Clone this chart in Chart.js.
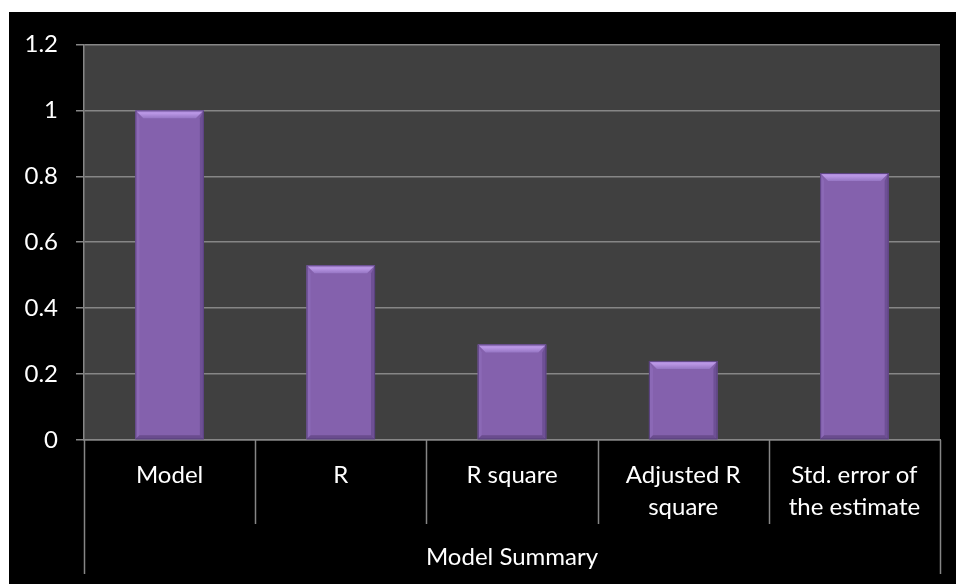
<!DOCTYPE html>
<html>
<head>
<meta charset="utf-8">
<script src="https://cdn.jsdelivr.net/npm/chart.js@4/dist/chart.umd.min.js"></script>
<style>
  html, body { margin: 0; padding: 0; background: #ffffff; }
  #wrap { position: absolute; left: 9px; top: 12px; width: 947px; height: 572px; background: #000000; }
  canvas { display: block; }
</style>
</head>
<body>
<div id="wrap"><canvas id="c" width="947" height="572"></canvas></div>
<script>
// ---- data ----
const categories = [['Model'], ['R'], ['R square'], ['Adjusted R', 'square'], ['Std. error of', 'the estimate']];
const groupLabel = 'Model Summary';
const values = [1.0, 0.53, 0.29, 0.24, 0.81];
const yTicks = [0, 0.2, 0.4, 0.6, 0.8, 1, 1.2];

const FONT = 'Lato, "Open Sans", "DejaVu Sans", sans-serif';
const FSIZE = 24;
const GRID = '#868686';

// plot area background
const plotBgPlugin = {
  id: 'plotBg',
  beforeDraw(chart) {
    const a = chart.chartArea;
    const ctx = chart.ctx;
    ctx.save();
    ctx.fillStyle = '#404040';
    ctx.fillRect(a.left, a.top, a.right - a.left, a.bottom - a.top);
    ctx.restore();
  }
};

// bevel effect on bars
const bevelPlugin = {
  id: 'bevel',
  afterDatasetsDraw(chart) {
    const ctx = chart.ctx;
    chart.getDatasetMeta(0).data.forEach(bar => {
      const l = bar.x - bar.width / 2, r = bar.x + bar.width / 2;
      const t = bar.y, b = bar.base;
      const bt = 8, bs = 4, bb = 4;
      ctx.save();
      ctx.beginPath();
      ctx.moveTo(l, t); ctx.lineTo(l + bs, t + bt); ctx.lineTo(l + bs, b - bb); ctx.lineTo(l, b);
      ctx.closePath(); ctx.fillStyle = '#8b69b6'; ctx.fill();
      ctx.beginPath();
      ctx.moveTo(r, t); ctx.lineTo(r - bs, t + bt); ctx.lineTo(r - bs, b - bb); ctx.lineTo(r, b);
      ctx.closePath(); ctx.fillStyle = '#6e5095'; ctx.fill();
      ctx.beginPath();
      ctx.moveTo(l, b); ctx.lineTo(l + bs, b - bb); ctx.lineTo(r - bs, b - bb); ctx.lineTo(r, b);
      ctx.closePath(); ctx.fillStyle = '#6a4c8e'; ctx.fill();
      const g = ctx.createLinearGradient(0, t, 0, t + bt);
      g.addColorStop(0, '#a583d3');
      g.addColorStop(0.35, '#bb98e6');
      g.addColorStop(1, '#9676c4');
      ctx.beginPath();
      ctx.moveTo(l, t); ctx.lineTo(r, t); ctx.lineTo(r - bs * 2, t + bt); ctx.lineTo(l + bs * 2, t + bt);
      ctx.closePath(); ctx.fillStyle = g; ctx.fill();
      ctx.strokeStyle = '#5b4280';
      ctx.lineWidth = 1;
      ctx.strokeRect(l + 0.5, t + 0.5, bar.width - 1, b - t - 1);
      ctx.restore();
    });
  }
};

// multi-level category separators
const separatorPlugin = {
  id: 'separators',
  afterDraw(chart) {
    const xs = chart.scales.x;
    const ctx = chart.ctx;
    const n = categories.length;
    const step = (xs.right - xs.left) / n;
    const top = xs.top;
    ctx.save();
    ctx.strokeStyle = GRID;
    ctx.lineWidth = 1.5;
    for (let i = 0; i <= n; i++) {
      const x = Math.round(xs.getPixelForValue(i) - step / 2) + 0.5;
      const len = (i === 0 || i === n) ? 134 : 84;
      ctx.beginPath();
      ctx.moveTo(x, top);
      ctx.lineTo(x, top + len);
      ctx.stroke();
    }
    ctx.restore();
  }
};

new Chart(document.getElementById('c'), {
  type: 'bar',
  data: {
    labels: categories,
    datasets: [{
      data: values,
      backgroundColor: '#8461ad',
      borderWidth: 0,
      categoryPercentage: 1.0,
      barPercentage: 0.4
    }]
  },
  options: {
    responsive: false,
    animation: false,
    events: [],
    layout: { padding: { top: 28, right: 16, left: 0, bottom: 0 } },
    plugins: {
      legend: { display: false },
      tooltip: { enabled: false },
      title: { display: false }
    },
    scales: {
      y: {
        min: 0,
        max: 1.2,
        afterBuildTicks(scale) { scale.ticks = yTicks.map(v => ({ value: v })); },
        afterFit(scale) { scale.width = 75; },
        grid: { color: GRID, lineWidth: 1.5, tickLength: 8, drawTicks: true },
        border: { color: GRID, width: 1.5 },
        ticks: {
          color: '#ffffff',
          padding: 18,
          font: { family: FONT, size: FSIZE },
          callback: v => String(Math.round(v * 10) / 10)
        }
      },
      x: {
        afterFit(scale) { scale.height = 144; },
        grid: { display: false, drawTicks: false },
        border: { color: GRID, width: 1.5 },
        ticks: {
          color: '#ffffff',
          padding: 19,
          maxRotation: 0,
          autoSkip: false,
          font: { family: FONT, size: FSIZE, lineHeight: 32 / FSIZE }
        },
        title: {
          display: true,
          text: groupLabel,
          color: '#ffffff',
          font: { family: FONT, size: FSIZE, lineHeight: 1.2 },
          padding: { top: 0, bottom: 12 }
        }
      }
    }
  },
  plugins: [plotBgPlugin, bevelPlugin, separatorPlugin]
});
</script>
</body>
</html>
